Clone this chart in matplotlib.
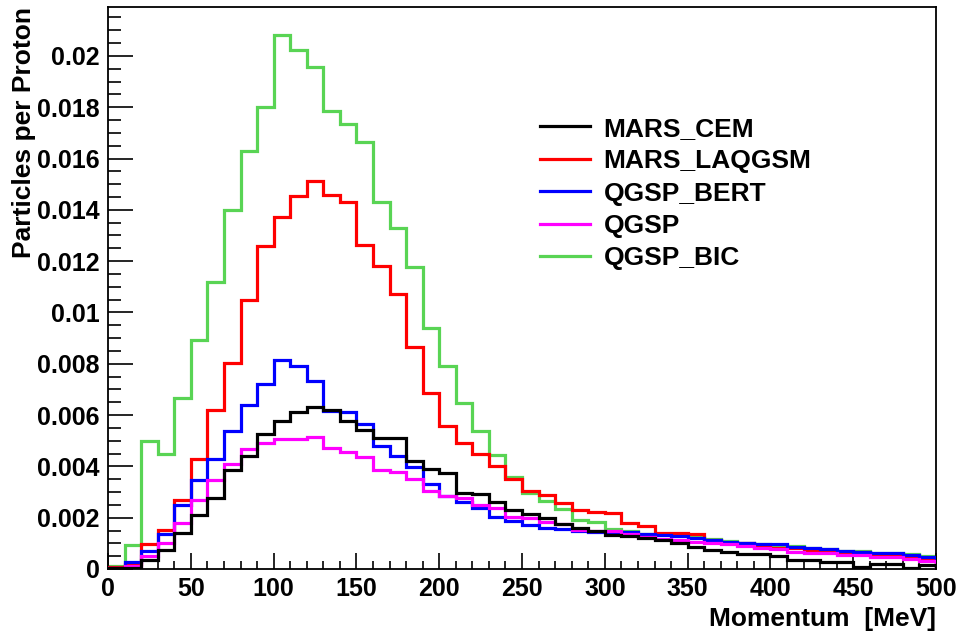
import matplotlib
matplotlib.use("Agg")
import matplotlib.pyplot as plt
import numpy as np
from matplotlib.ticker import MultipleLocator, FormatStrFormatter

plt.rcParams["font.family"] = ["Liberation Sans", "DejaVu Sans"]
plt.rcParams["font.weight"] = "bold"

# momentum bins, 10 MeV wide
edges = np.arange(0, 510, 10)

# particles per proton (units of 1e-3)
mars_cem = [0.02, 0.04, 0.35, 0.74, 1.39, 2.12, 2.76, 3.87, 4.39, 5.26,
            5.76, 6.12, 6.30, 6.20, 5.75, 5.40, 5.12, 5.12, 4.21, 3.90,
            3.76, 2.98, 2.92, 2.63, 2.28, 2.14, 1.99, 1.77, 1.60, 1.48,
            1.33, 1.29, 1.20, 1.13, 1.00, 0.87, 0.74, 0.68, 0.57, 0.57,
            0.51, 0.35, 0.35, 0.29, 0.29, 0.09, 0.18, 0.18, 0.05, 0.15]
mars_laqgsm = [0.08, 0.20, 0.96, 1.52, 2.70, 4.28, 6.18, 8.03, 10.47, 12.59,
               13.71, 14.52, 15.13, 14.58, 14.30, 12.62, 11.82, 10.73, 8.66, 6.86,
               5.56, 4.91, 4.49, 4.00, 3.52, 3.05, 2.90, 2.58, 2.30, 2.24,
               2.17, 1.78, 1.68, 1.42, 1.39, 1.35, 1.13, 1.03, 1.00, 0.87,
               0.82, 0.80, 0.70, 0.74, 0.68, 0.68, 0.58, 0.55, 0.48, 0.39]
qgsp_bert = [0.05, 0.26, 0.72, 1.36, 2.48, 3.48, 4.30, 5.36, 6.41, 7.21,
             8.16, 7.90, 7.32, 6.17, 6.11, 5.65, 4.81, 4.42, 3.96, 3.30,
             2.85, 2.62, 2.37, 2.01, 1.86, 1.72, 1.59, 1.57, 1.48, 1.44,
             1.46, 1.43, 1.36, 1.33, 1.29, 1.22, 1.13, 1.07, 1.00, 0.96,
             0.96, 0.87, 0.83, 0.78, 0.70, 0.68, 0.61, 0.61, 0.55, 0.48]
qgsp = [0.03, 0.10, 0.52, 1.03, 1.78, 2.68, 3.48, 4.09, 4.67, 4.91,
        5.07, 5.08, 5.13, 4.71, 4.57, 4.37, 3.86, 3.79, 3.50, 3.05,
        2.85, 2.75, 2.50, 2.36, 2.04, 2.00, 1.85, 1.76, 1.52, 1.50,
        1.48, 1.36, 1.24, 1.17, 1.13, 1.07, 1.03, 0.96, 0.89, 0.83,
        0.78, 0.68, 0.61, 0.61, 0.55, 0.55, 0.48, 0.45, 0.38, 0.32]
qgsp_bic = [0.10, 0.95, 4.97, 4.49, 6.65, 8.92, 11.18, 14.00, 16.30, 18.02,
            20.82, 20.23, 19.58, 17.87, 17.33, 16.63, 14.32, 13.28, 11.78, 9.38,
            7.92, 6.46, 5.36, 4.43, 3.58, 2.97, 2.64, 2.35, 1.92, 1.82,
            1.55, 1.49, 1.38, 1.35, 1.33, 1.24, 1.15, 1.08, 1.00, 0.97,
            0.92, 0.88, 0.82, 0.78, 0.72, 0.70, 0.64, 0.62, 0.58, 0.50]

names = ["MARS_CEM", "MARS_LAQGSM", "QGSP_BERT", "QGSP", "QGSP_BIC"]
series = [mars_cem, mars_laqgsm, qgsp_bert, qgsp, qgsp_bic]
colors = ["#000000", "#ff0000", "#0000ff", "#ff00ff", "#59d454"]
zorder = [6, 3, 4, 5, 2]

fig = plt.figure(figsize=(9.62, 6.32), dpi=100)
ax = fig.add_axes([0.1123, 0.0997, 0.8607, 0.8890])

for vals, nm, c, z in zip(series, names, colors, zorder):
    ax.stairs(np.array(vals) * 1e-3, edges, color=c, linewidth=2.3, label=nm, zorder=z)

ax.set_xlim(0, 500)
ax.set_ylim(0, 0.0219)

ax.xaxis.set_major_locator(MultipleLocator(50))
ax.xaxis.set_minor_locator(MultipleLocator(10))
ax.yaxis.set_major_locator(MultipleLocator(0.002))
ax.yaxis.set_minor_locator(MultipleLocator(0.0005))
ax.xaxis.set_major_formatter(FormatStrFormatter("%g"))
ax.yaxis.set_major_formatter(FormatStrFormatter("%g"))

ax.tick_params(axis="both", which="both", direction="in", labelsize=18, width=1.2)
ax.tick_params(axis="y", which="major", length=18, pad=6)
ax.tick_params(axis="y", which="minor", length=9)
ax.tick_params(axis="x", which="major", length=11.5, pad=6)
ax.tick_params(axis="x", which="minor", length=5.5)

for s in ax.spines.values():
    s.set_linewidth(1.3)

ax.set_xlabel("Momentum  [MeV]", fontsize=19, fontweight="bold", loc="right", labelpad=4)
ax.set_ylabel("Particles per Proton", fontsize=19, fontweight="bold", loc="top", labelpad=1)

leg = ax.legend(loc="upper left", bbox_to_anchor=(0.522, 0.805), frameon=False,
                fontsize=19, handlelength=1.9, handletextpad=0.5, labelspacing=0.32,
                borderpad=0, borderaxespad=0)
for h in leg.get_lines():
    h.set_linewidth(2.3)

fig.savefig("out.png", dpi=100)
